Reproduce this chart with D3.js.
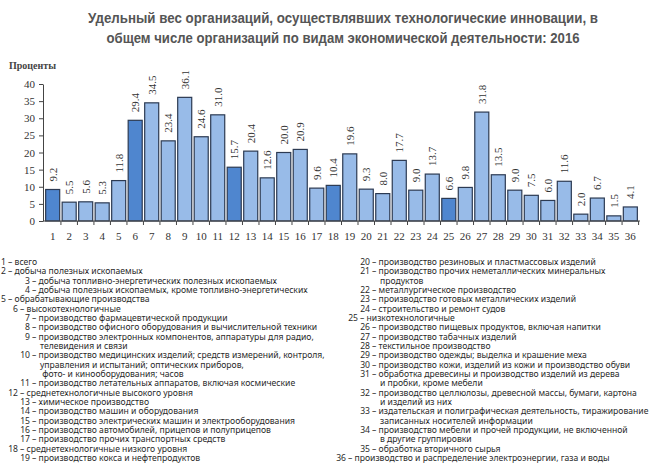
<!DOCTYPE html>
<html lang="ru">
<head>
<meta charset="UTF-8" />
<title>Технологические инновации 2016</title>
<script src="https://cdn.jsdelivr.net/npm/d3@7"></script>
<style>
  body { margin: 0; background: #fff; }
  .title { font-family: "Liberation Sans Narrow", "Arial Narrow", "Liberation Sans", sans-serif; font-weight: bold; font-size: 15px; fill: #555; }
  .serif { font-family: "Liberation Serif", "Times New Roman", serif; fill: #333; }
  .bar { stroke: #2c3a52; stroke-width: 1.2px; }
  .legend { font-family: "Noto Sans", "Open Sans", sans-serif; font-size: 8.6px; fill: #2a2a2a; }
  .axis path, .axis line { stroke: #444; }
</style>
</head>
<body>
<svg id="chart" width="652" height="463"></svg>
<script>
// categories and values
var cats = d3.range(1, 37);
var values = [9.2, 5.5, 5.6, 5.3, 11.8, 29.4, 34.5, 23.4, 36.1, 24.6, 31.0, 15.7, 20.4, 12.6, 20.0, 20.9, 9.6, 10.4,
              19.6, 9.3, 8.0, 17.7, 9.0, 13.7, 6.6, 9.8, 31.8, 13.5, 9.0, 7.5, 6.0, 11.6, 2.0, 6.7, 1.5, 4.1];
// aggregate groups drawn darker
var darkCats = [1, 6, 12, 18, 25];
var yTicks = [0, 5, 10, 15, 20, 25, 30, 35, 40];

// legend: number, level, lines
var legendNums = d3.range(1, 37);
var legendLevels = [0, 0, 2, 2, 0, 1, 2, 2, 2, 2, 2, 1, 2, 2, 2, 2, 2, 1,
                    2, 2, 2, 2, 2, 2, 1, 2, 2, 2, 2, 2, 2, 2, 2, 2, 2, 0];
var legendTexts = [
  ["всего"],
  ["добыча полезных ископаемых"],
  ["добыча топливно-энергетических полезных ископаемых"],
  ["добыча полезных ископаемых, кроме топливно-энергетических"],
  ["обрабатывающие производства"],
  ["высокотехнологичные"],
  ["производство фармацевтической продукции"],
  ["производство офисного оборудования и вычислительной техники"],
  ["производство электронных компонентов, аппаратуры для радио,", "телевидения и связи"],
  ["производство медицинских изделий; средств измерений, контроля,", "управления и испытаний; оптических приборов,", " фото- и кинооборудования; часов"],
  ["производство летательных аппаратов, включая космические"],
  ["среднетехнологичные высокого уровня"],
  ["химическое производство"],
  ["производство машин и оборудования"],
  ["производство электрических машин и электрооборудования"],
  ["производство автомобилей, прицепов и полуприцепов"],
  ["производство прочих транспортных средств"],
  ["среднетехнологичные низкого уровня"],
  ["производство кокса и нефтепродуктов"],
  ["производство резиновых и пластмассовых изделий"],
  ["производство прочих неметаллических минеральных", "продуктов"],
  ["металлургическое производство"],
  ["производство готовых металлических изделий"],
  ["строительство и ремонт судов"],
  ["низкотехнологичные"],
  ["производство пищевых продуктов, включая напитки"],
  ["производство табачных изделий"],
  ["текстильное производство"],
  ["производство одежды; выделка и крашение меха"],
  ["производство кожи, изделий из кожи и производство обуви"],
  ["обработка древесины и производство изделий из дерева", "и пробки, кроме мебели"],
  ["производство целлюлозы, древесной массы, бумаги, картона", "и изделий из них"],
  ["издательская и полиграфическая деятельность, тиражирование", "записанных носителей информации"],
  ["производство мебели и прочей продукции, не включенной", "в другие группировки"],
  ["обработка вторичного сырья"],
  ["производство и распределение электроэнергии, газа и воды"]
];

var svg = d3.select("#chart");

// title
svg.append("text").attr("class", "title")
   .attr("x", 343).attr("y", 23).attr("text-anchor", "middle")
   .attr("textLength", 510).attr("lengthAdjust", "spacingAndGlyphs")
   .text("Удельный вес организаций, осуществлявших технологические инновации, в");
svg.append("text").attr("class", "title")
   .attr("x", 343).attr("y", 43).attr("text-anchor", "middle")
   .attr("textLength", 473).attr("lengthAdjust", "spacingAndGlyphs")
   .text("общем числе организаций по видам экономической деятельности: 2016");

var x = d3.scaleBand().domain(cats).range([44.5, 638.5]).paddingInner(0.15).paddingOuter(0.07);
var y = d3.scaleLinear().domain([0, 40]).range([221, 84]);

svg.append("text").attr("class", "serif")
   .attr("x", 9).attr("y", 69).style("font-size", "10px").style("font-weight", "bold").style("fill", "#444")
   .text("Проценты");

// y axis
var yAxis = svg.append("g").attr("class", "axis serif")
   .attr("transform", "translate(43,0)")
   .call(d3.axisLeft(y).tickValues(yTicks).tickSize(4).tickPadding(4).tickSizeOuter(0));
yAxis.selectAll("text").style("font-size", "11px").style("font-family", "Liberation Serif, serif").attr("fill", "#333");

// bars
svg.selectAll(".bar").data(cats).enter().append("rect")
   .attr("class", "bar")
   .attr("x", function(d) { return x(d); })
   .attr("y", function(d, i) { return y(values[i]); })
   .attr("width", x.bandwidth())
   .attr("height", function(d, i) { return y(0) - y(values[i]); })
   .attr("fill", function(d) { return darkCats.indexOf(d) >= 0 ? "#4f86cf" : "#98bbe8"; });

// value labels
svg.selectAll(".val").data(cats).enter().append("text")
   .attr("class", "val serif")
   .style("font-size", "11px")
   .attr("transform", function(d, i) {
     return "translate(" + (x(d) + x.bandwidth() / 2 + 4) + "," + (y(values[i]) - 8) + ") rotate(-90)";
   })
   .text(function(d, i) { return values[i].toFixed(1); });

// x axis
var step = x.step();
svg.append("line").attr("x1", 43).attr("x2", 640).attr("y1", y(0)).attr("y2", y(0))
   .attr("stroke", "#444").attr("stroke-width", 1.2);
svg.selectAll(".xsep").data(cats).enter().append("line")
   .attr("x1", function(d) { return x(d) - (step - x.bandwidth()) / 2 + step; })
   .attr("x2", function(d) { return x(d) - (step - x.bandwidth()) / 2 + step; })
   .attr("y1", y(0)).attr("y2", y(0) + 4)
   .attr("stroke", "#444");
svg.selectAll(".xlab").data(cats).enter().append("text")
   .attr("class", "serif").style("font-size", "11px")
   .attr("text-anchor", "middle")
   .attr("x", function(d) { return x(d) + x.bandwidth() / 2; })
   .attr("y", 240)
   .text(function(d) { return d; });

// legend
var lineH = 9.33;
var colX = [0, 340];
var numEdge = [6, 18, 30];
var rowInCol = [0, 0];
legendNums.forEach(function(n, i) {
  var col = n <= 19 ? 0 : 1;
  var lv = legendLevels[i];
  var ex = colX[col] + numEdge[lv];
  legendTexts[i].forEach(function(t, j) {
    var yy = 265 + rowInCol[col] * lineH;
    if (j === 0) {
      svg.append("text").attr("class", "legend").attr("x", ex).attr("y", yy)
         .attr("text-anchor", "end").text(n);
      svg.append("text").attr("class", "legend").attr("x", ex + 2).attr("y", yy)
         .text("– " + t);
    } else {
      svg.append("text").attr("class", "legend").attr("x", ex + 10).attr("y", yy)
         .attr("xml:space", "preserve").text(t);
    }
    rowInCol[col]++;
  });
});
</script>
</body>
</html>
